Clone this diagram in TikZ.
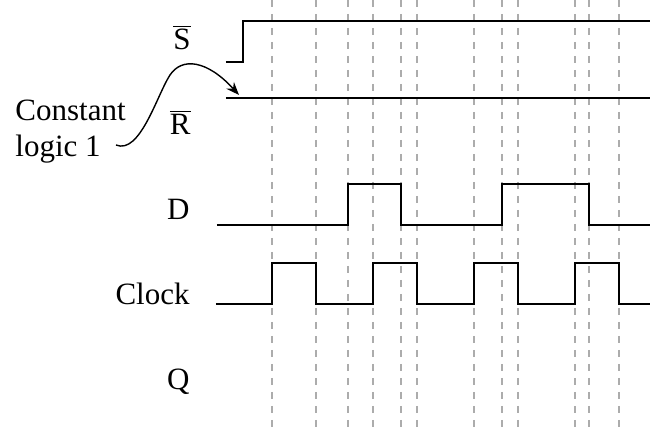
\documentclass[tikz,border=0pt]{standalone}
\usepackage{fontspec}
\setmainfont{Liberation Serif}
\usetikzlibrary{arrows.meta, positioning}

\begin{document}
\begin{tikzpicture}[x=0.5pt, y=-0.5pt,
        lbl/.style={anchor=base east, inner sep=0pt, font=\fontsize{15.5}{18}\selectfont},
        wave/.style={black, line width=1pt, line join=miter},
        grid/.style={gray!65, line width=0.7pt, dash pattern=on 3.5pt off 3.5pt},
        arr/.style={-{Stealth[length=6.5pt,width=5pt]}, black, line width=0.7pt}
      ]
        \useasboundingbox (0,0) rectangle (650,431);
        % Time marks
        \foreach \x in {272,316,348,373,401,417,474,502,518,575,589,619}
          \draw[grid] (\x,0) -- (\x,431);
        % Labels
        \node[lbl] (sbar) at (191,50) {$\overline{\mbox{S}}$};
        \node[lbl] (rbar) at (191,135) {$\overline{\mbox{R}}$};
        \node[lbl] (d) at (190,220) {D};
        \node[lbl] (clk) at (190,305) {Clock};
        \node[lbl] (q) at (190,390) {Q};
        \node[lbl, anchor=base west, align=left] (const) at (15,157) {Constant\\logic 1};
        % Waveforms
        \draw[wave] (226,62) -- (243,62) -- (243,21) -- (650,21);
        \draw[wave] (226,98) -- (650,98);
        \draw[wave] (217,225) -- (348,225) -- (348,184) -- (401,184) -- (401,225)
          -- (502,225) -- (502,184) -- (589,184) -- (589,225) -- (650,225);
        \draw[wave] (216,304) -- (272,304) -- (272,263) -- (316,263) -- (316,304)
          -- (373,304) -- (373,263) -- (417,263) -- (417,304)
          -- (474,304) -- (474,263) -- (518,263) -- (518,304)
          -- (575,304) -- (575,263) -- (619,263) -- (619,304) -- (650,304);
        % Pointer
        \coordinate (tail) at (116,145);
        \coordinate (tip) at (239,95);
        \draw[arr] (tail) .. controls (140,155) and (157,95) .. (170,75)
          .. controls (182,57) and (207,60) .. (tip);
      \end{tikzpicture}
\end{document}
